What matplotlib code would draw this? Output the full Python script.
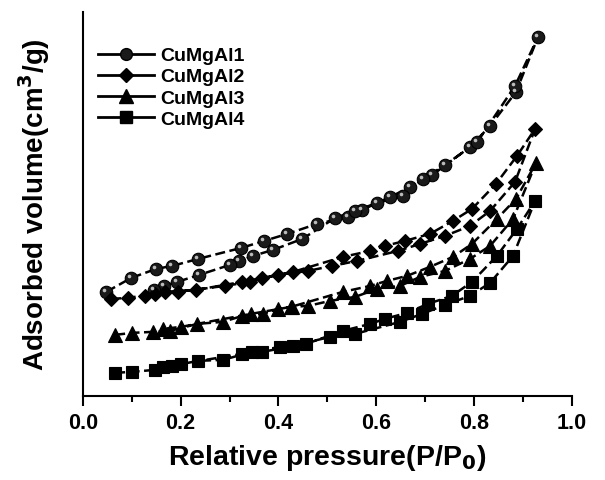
import matplotlib
matplotlib.use("Agg")
import matplotlib.pyplot as plt
from matplotlib.lines import Line2D
import matplotlib.transforms as mtransforms

plt.rcParams['font.family'] = ['Liberation Sans', 'DejaVu Sans']
plt.rcParams['font.weight'] = 'bold'

labels = ["CuMgAl1", "CuMgAl2", "CuMgAl3", "CuMgAl4"]
markers = ["o", "D", "^", "s"]
msizes = [9, 7.5, 10, 8.5]

# CuMgAl1
p1_ads = [0.048, 0.099, 0.150, 0.183, 0.236, 0.324, 0.371, 0.418, 0.479, 0.543,
          0.571, 0.629, 0.670, 0.715, 0.792, 0.833, 0.886, 0.931]
v1_ads = [104, 118, 127, 130, 137, 148, 155, 162, 172, 179,
          186, 199, 209, 221, 249, 270, 304, 359]
p1_des = [0.931, 0.884, 0.807, 0.741, 0.696, 0.655, 0.602, 0.557, 0.516, 0.449,
          0.389, 0.348, 0.320, 0.301, 0.238, 0.193, 0.166, 0.146]
v1_des = [359, 310, 254, 231, 217, 200, 193, 185, 178, 157,
          146, 140, 135, 131, 121, 114, 110, 106]

# CuMgAl2
p2_ads = [0.058, 0.093, 0.148, 0.195, 0.291, 0.342, 0.399, 0.461, 0.510, 0.561,
          0.645, 0.690, 0.741, 0.792, 0.833, 0.884, 0.925]
v2_ads = [97, 98, 102, 104, 110, 114, 121, 125, 130, 135,
          145, 152, 160, 170, 185, 214, 267]
p2_des = [0.925, 0.888, 0.845, 0.796, 0.757, 0.710, 0.659, 0.618, 0.588, 0.532,
          0.430, 0.367, 0.326, 0.232, 0.168, 0.127]
v2_des = [267, 240, 212, 187, 175, 162, 155, 150, 145, 139,
          124, 118, 114, 106, 104, 100]

# CuMgAl3
p3_ads = [0.066, 0.101, 0.144, 0.179, 0.234, 0.287, 0.326, 0.369, 0.400, 0.428,
          0.461, 0.506, 0.557, 0.602, 0.649, 0.690, 0.741, 0.792, 0.833, 0.880, 0.927]
v3_ads = [61, 63, 64, 65, 72, 74, 80, 82, 87, 89,
          90, 95, 99, 107, 110, 119, 125, 137, 150, 177, 233]
p3_des = [0.927, 0.886, 0.847, 0.796, 0.757, 0.710, 0.663, 0.622, 0.588, 0.532,
          0.426, 0.344, 0.201, 0.164]
v3_des = [233, 197, 177, 152, 139, 129, 120, 115, 110, 104,
          89, 82, 69, 67]

# CuMgAl4
p4_ads = [0.066, 0.101, 0.148, 0.183, 0.236, 0.287, 0.346, 0.404, 0.430, 0.506,
          0.557, 0.649, 0.694, 0.741, 0.792, 0.833, 0.880, 0.925]
v4_ads = [23, 24, 26, 30, 35, 36, 44, 49, 50, 59,
          62, 74, 82, 91, 100, 113, 140, 195]
p4_des = [0.925, 0.888, 0.847, 0.796, 0.755, 0.706, 0.663, 0.618, 0.588, 0.532,
          0.457, 0.367, 0.326, 0.201, 0.164]
v4_des = [195, 167, 140, 114, 100, 92, 83, 77, 72, 65,
          52, 44, 42, 32, 29]

series = [(p1_ads, v1_ads, p1_des, v1_des),
          (p2_ads, v2_ads, p2_des, v2_des),
          (p3_ads, v3_ads, p3_des, v3_des),
          (p4_ads, v4_ads, p4_des, v4_des)]

fig = plt.figure(figsize=(6.05, 4.81), dpi=100)
ax = fig.add_axes([0.137, 0.175, 0.808, 0.798])

for i, (pa, va, pd, vd) in enumerate(series):
    x = list(pa) + list(pd[1:])
    y = list(va) + list(vd[1:])
    face = '#1a1a1a' if markers[i] == 'o' else 'black'
    ax.plot(x, y, color='black', lw=1.8, linestyle=(0, (4, 1.8)),
            marker=markers[i], ms=msizes[i], mfc=face, mec='black', mew=0.8,
            zorder=3)
    if markers[i] == 'o':
        off = mtransforms.offset_copy(ax.transData, fig=fig, x=-1.6, y=1.6, units='points')
        ax.plot(x, y, linestyle='none', marker='o', ms=2.6, mfc='#bbbbbb',
                mec='none', transform=off, zorder=4)

ax.set_xlim(0.0, 1.0)
ax.set_ylim(0, 384)
ax.set_xticks([0.0, 0.2, 0.4, 0.6, 0.8, 1.0])
ax.set_xticklabels(["0.0", "0.2", "0.4", "0.6", "0.8", "1.0"])
ax.set_xticks([0.1, 0.3, 0.5, 0.7, 0.9], minor=True)
ax.set_yticks([])
ax.tick_params(axis='x', which='major', direction='out', length=7, width=1.5,
               labelsize=15.5, pad=5)
ax.tick_params(axis='x', which='minor', direction='out', length=4, width=1.5)
for lab in ax.get_xticklabels():
    lab.set_fontweight('bold')
ax.spines['top'].set_visible(False)
ax.spines['right'].set_visible(False)
ax.spines['left'].set_linewidth(1.5)
ax.spines['bottom'].set_linewidth(1.5)

ax.set_xlabel(r"Relative pressure(P/P$_\mathbf{0}$)", fontsize=20.5, fontweight='bold', labelpad=6)
ax.set_ylabel(r"Adsorbed volume(cm$^\mathbf{3}$/g)", fontsize=20, fontweight='bold', labelpad=22)

handles = []
for i in range(4):
    face = '#1a1a1a' if markers[i] == 'o' else 'black'
    handles.append(Line2D([], [], color='black', lw=2, marker=markers[i],
                          ms=msizes[i] - 0.5, mfc=face, mec='black'))
leg = ax.legend(handles, labels, loc='upper left', bbox_to_anchor=(-0.005, 0.955),
                frameon=False, handlelength=2.9, handletextpad=0.3,
                labelspacing=0.18, prop={'weight': 'bold', 'size': 14})

fig.savefig("out.png", dpi=100)
